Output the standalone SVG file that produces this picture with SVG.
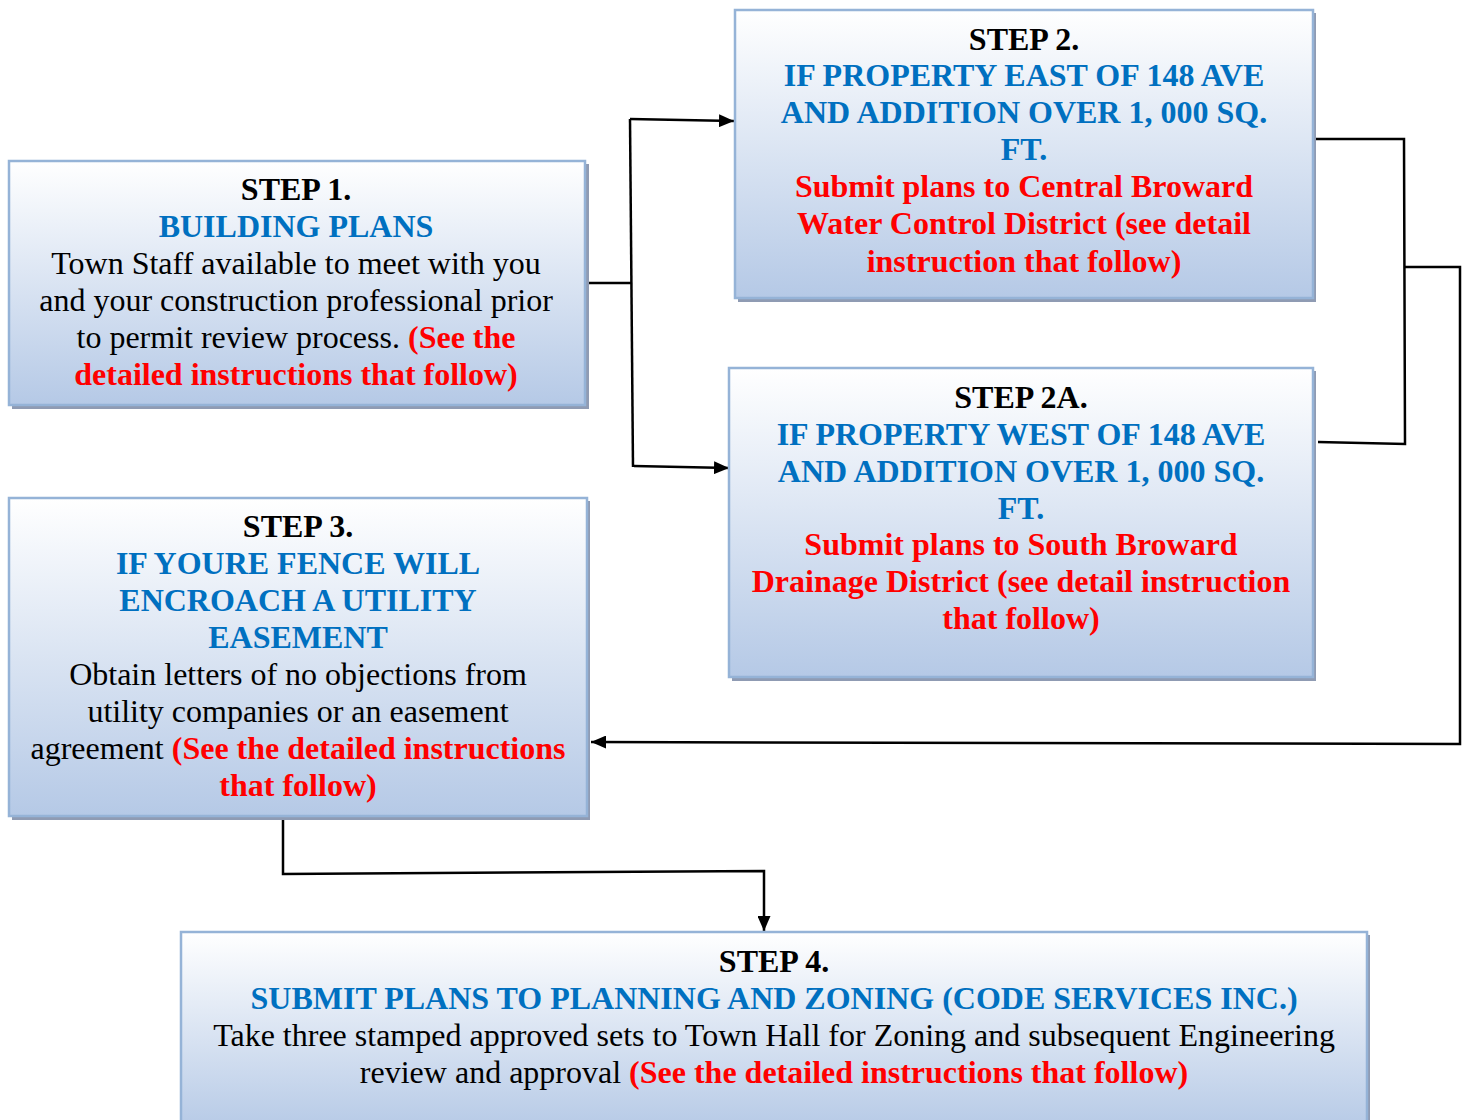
<svg xmlns="http://www.w3.org/2000/svg" width="1465" height="1120" viewBox="0 0 1465 1120">
<defs>
<linearGradient id="g" x1="0" y1="0" x2="0" y2="1">
<stop offset="0" stop-color="#FFFFFF"/>
<stop offset="1" stop-color="#B5C9E6"/>
</linearGradient>
<marker id="ah" markerWidth="15" markerHeight="13" refX="15" refY="6.5" orient="auto" markerUnits="userSpaceOnUse">
<path d="M0,0 L15,6.5 L0,13 Z" fill="#000"/>
</marker>
</defs>
<style>
.shadow{fill:#8F9BB3}
.box{fill:url(#g);stroke:#95B3D7;stroke-width:2.5}
text{font-family:"Liberation Serif","Times New Roman",serif;font-size:32px;text-anchor:middle}
.b{font-weight:bold}
.k{fill:#000}
.bl{fill:#0070C0;font-weight:bold}
.r{fill:#FF0000;font-weight:bold}
.c{fill:none;stroke:#000;stroke-width:2.5}
</style>
<rect width="1465" height="1120" fill="#FFFFFF"/>

<g id="connectors">
<polyline class="c" points="585,283 631,283"/>
<polyline class="c" points="630,119 633,467"/>
<polyline class="c" points="630,119 734,121" marker-end="url(#ah)"/>
<polyline class="c" points="634,466 729,468" marker-end="url(#ah)"/>
<polyline class="c" points="1313,139 1404,139 1405,444 1318,442"/>
<polyline class="c" points="1405,267 1460,267 1460,744 591,742" marker-end="url(#ah)"/>
<polyline class="c" points="283,817 283,874 764,871 764,931" marker-end="url(#ah)"/>
</g>

<g id="step1">
<rect class="shadow" x="12" y="164" width="577" height="245"/>
<rect class="box" x="9" y="161" width="576" height="244"/>
<text class="b k" x="296" y="200">STEP 1.</text>
<text class="bl" x="296" y="237">BUILDING PLANS</text>
<text class="k" x="296" y="274">Town Staff available to meet with you</text>
<text class="k" x="296" y="311">and your construction professional prior</text>
<text class="k" x="296" y="348">to permit review process. <tspan class="r">(See the</tspan></text>
<text class="r" x="296" y="385">detailed instructions that follow)</text>
</g>

<g id="step2">
<rect class="shadow" x="738" y="13" width="578" height="289"/>
<rect class="box" x="735" y="10" width="578" height="288"/>
<text class="b k" x="1024" y="50">STEP 2.</text>
<text class="bl" x="1024" y="86">IF PROPERTY EAST OF 148 AVE</text>
<text class="bl" x="1024" y="123">AND ADDITION OVER 1, 000 SQ.</text>
<text class="bl" x="1024" y="160">FT.</text>
<text class="r" x="1024" y="197">Submit plans to Central Broward</text>
<text class="r" x="1024" y="234">Water Control District (see detail</text>
<text class="r" x="1024" y="272">instruction that follow)</text>
</g>

<g id="step2a">
<rect class="shadow" x="732" y="371" width="584" height="310"/>
<rect class="box" x="729" y="368" width="584" height="309"/>
<text class="b k" x="1021" y="408">STEP 2A.</text>
<text class="bl" x="1021" y="445">IF PROPERTY WEST OF 148 AVE</text>
<text class="bl" x="1021" y="482">AND ADDITION OVER 1, 000 SQ.</text>
<text class="bl" x="1021" y="519">FT.</text>
<text class="r" x="1021" y="555">Submit plans to South Broward</text>
<text class="r" x="1021" y="592">Drainage District (see detail instruction</text>
<text class="r" x="1021" y="629">that follow)</text>
</g>

<g id="step3">
<rect class="shadow" x="12" y="501" width="578" height="319"/>
<rect class="box" x="9" y="498" width="578" height="318"/>
<text class="b k" x="298" y="537">STEP 3.</text>
<text class="bl" x="298" y="574">IF YOURE FENCE WILL</text>
<text class="bl" x="298" y="611">ENCROACH A UTILITY</text>
<text class="bl" x="298" y="648">EASEMENT</text>
<text class="k" x="298" y="685">Obtain letters of no objections from</text>
<text class="k" x="298" y="722">utility companies or an easement</text>
<text class="k" x="298" y="759">agreement <tspan class="r">(See the detailed instructions</tspan></text>
<text class="r" x="298" y="796">that follow)</text>
</g>

<g id="step4">
<rect class="shadow" x="184" y="935" width="1186" height="200"/>
<rect class="box" x="181" y="932" width="1186" height="200"/>
<text class="b k" x="774" y="972">STEP 4.</text>
<text class="bl" x="774" y="1009">SUBMIT PLANS TO PLANNING AND ZONING (CODE SERVICES INC.)</text>
<text class="k" x="774" y="1046">Take three stamped approved sets to Town Hall for Zoning and subsequent Engineering</text>
<text class="k" x="774" y="1083">review and approval <tspan class="r">(See the detailed instructions that follow)</tspan></text>
</g>
</svg>
